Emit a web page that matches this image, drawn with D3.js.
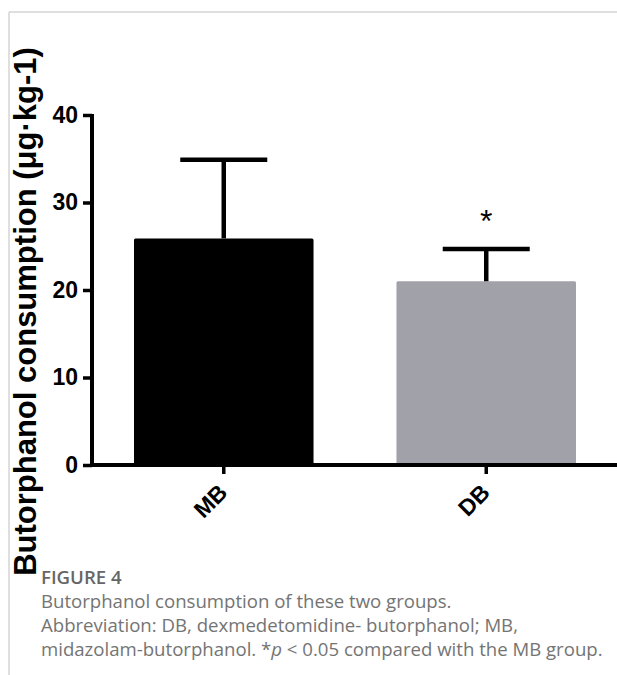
<!DOCTYPE html>
<html>
<head>
<meta charset="utf-8">
<script src="https://cdn.jsdelivr.net/npm/d3@7"></script>
<style>
  html, body { margin: 0; padding: 0; background: #fff; }
  svg { display: block; }
</style>
</head>
<body>
<script>
// Butorphanol consumption per group (mean ± SD)
const groups = ["MB", "DB"];
const means = [25.9, 21.0];
const sds = [9.0, 3.7];
const barColors = ["#000000", "#a1a1a9"];
const significance = ["", "*"];
const yTicks = [0, 10, 20, 30, 40];
const yTitle = "Butorphanol consumption (μg·kg-1)";
const captionTitle = "FIGURE 4";
const captionLines = [
  "Butorphanol consumption of these two groups.",
  "Abbreviation: DB, dexmedetomidine- butorphanol; MB,",
  "midazolam-butorphanol. *p < 0.05 compared with the MB group."
];

const W = 617, H = 675;
const svg = d3.select("body").append("svg").attr("width", W).attr("height", H);

// panel frame (top and left rule)
svg.append("line").attr("x1", 9).attr("x2", W).attr("y1", 12).attr("y2", 12)
  .attr("stroke", "#d4d4d4").attr("stroke-width", 1.5);
svg.append("line").attr("x1", 9).attr("x2", 9).attr("y1", 12).attr("y2", H)
  .attr("stroke", "#d4d4d4").attr("stroke-width", 1.5);

const x = d3.scaleBand().domain(groups).range([92, 618])
  .paddingInner(0.316).paddingOuter(0.16);
const y = d3.scaleLinear().domain([0, 40]).range([465, 115]);

// bars
svg.append("g").selectAll("rect").data(groups).join("rect")
  .attr("x", d => x(d))
  .attr("width", x.bandwidth())
  .attr("y", (d, i) => y(means[i]))
  .attr("height", (d, i) => y(0) - y(means[i]))
  .attr("rx", 1.5)
  .attr("fill", (d, i) => barColors[i]);

// error bars (upper SD only)
const capW = 87;
const eb = svg.append("g").attr("stroke", "#000").attr("stroke-width", 4.5);
groups.forEach((g, i) => {
  const cx = x(g) + x.bandwidth() / 2;
  eb.append("line").attr("x1", cx).attr("x2", cx)
    .attr("y1", y(means[i])).attr("y2", y(means[i] + sds[i]));
  eb.append("line").attr("x1", cx - capW / 2).attr("x2", cx + capW / 2)
    .attr("y1", y(means[i] + sds[i])).attr("y2", y(means[i] + sds[i]));
  if (significance[i]) {
    svg.append("text").attr("x", cx).attr("y", y(means[i] + sds[i]) - 17)
      .attr("text-anchor", "middle")
      .attr("font-family", "Liberation Sans, Arial, sans-serif")
      .attr("font-size", 32).attr("fill", "#000")
      .text(significance[i]);
  }
});

const axisFont = "Liberation Sans, Arial, sans-serif";

// y axis
const yAxis = svg.append("g").attr("transform", "translate(92,0)")
  .call(d3.axisLeft(y).tickValues(yTicks).tickSize(9).tickPadding(5));
yAxis.select(".domain").attr("stroke-width", 4).attr("d", `M0,${y(40) - 1}V${y(0) + 2}`);
yAxis.selectAll(".tick line").attr("stroke-width", 3.5);
yAxis.selectAll(".tick text")
  .attr("font-family", axisFont)
  .attr("font-weight", "bold").attr("font-size", 23).attr("fill", "#000");

// x axis
const xAxis = svg.append("g").attr("transform", `translate(0,${y(0)})`)
  .call(d3.axisBottom(x).tickSize(9).tickSizeOuter(0).tickFormat(""));
xAxis.select(".domain").attr("stroke-width", 4).attr("d", `M90,0H${W}`);
xAxis.selectAll(".tick line").attr("stroke-width", 3.5);

// rotated category labels
svg.append("g").selectAll("text").data(groups).join("text")
  .attr("transform", d => `translate(${x(d) + x.bandwidth() / 2 + 5},${y(0) + 29}) rotate(-45)`)
  .attr("text-anchor", "end")
  .attr("font-family", axisFont)
  .attr("font-weight", "bold").attr("font-size", 23).attr("fill", "#000")
  .text(d => d);

// y axis title
svg.append("text")
  .attr("transform", `translate(36,${(578 + 45) / 2}) rotate(-90)`)
  .attr("text-anchor", "middle")
  .attr("font-family", axisFont)
  .attr("font-weight", "bold").attr("font-size", 31).attr("fill", "#000")
  .text(yTitle);

// figure caption
const cap = svg.append("g").attr("font-family", "Open Sans, sans-serif").attr("font-size", 18.6);
cap.append("text").attr("x", 41).attr("y", 584).attr("fill", "#666")
  .attr("font-weight", 600).text(captionTitle);
cap.selectAll("text.line").data(captionLines).join("text").attr("class", "line")
  .attr("x", 41).attr("y", (d, i) => 608 + i * 24).attr("fill", "#747474")
  .each(function (d) {
    const t = d3.select(this);
    if (d.includes("*p")) {
      const [a, b] = d.split("*p");
      t.append("tspan").text(a + "*");
      t.append("tspan").attr("font-style", "italic").text("p");
      t.append("tspan").text(b);
    } else {
      t.text(d);
    }
  });
</script>
</body>
</html>
